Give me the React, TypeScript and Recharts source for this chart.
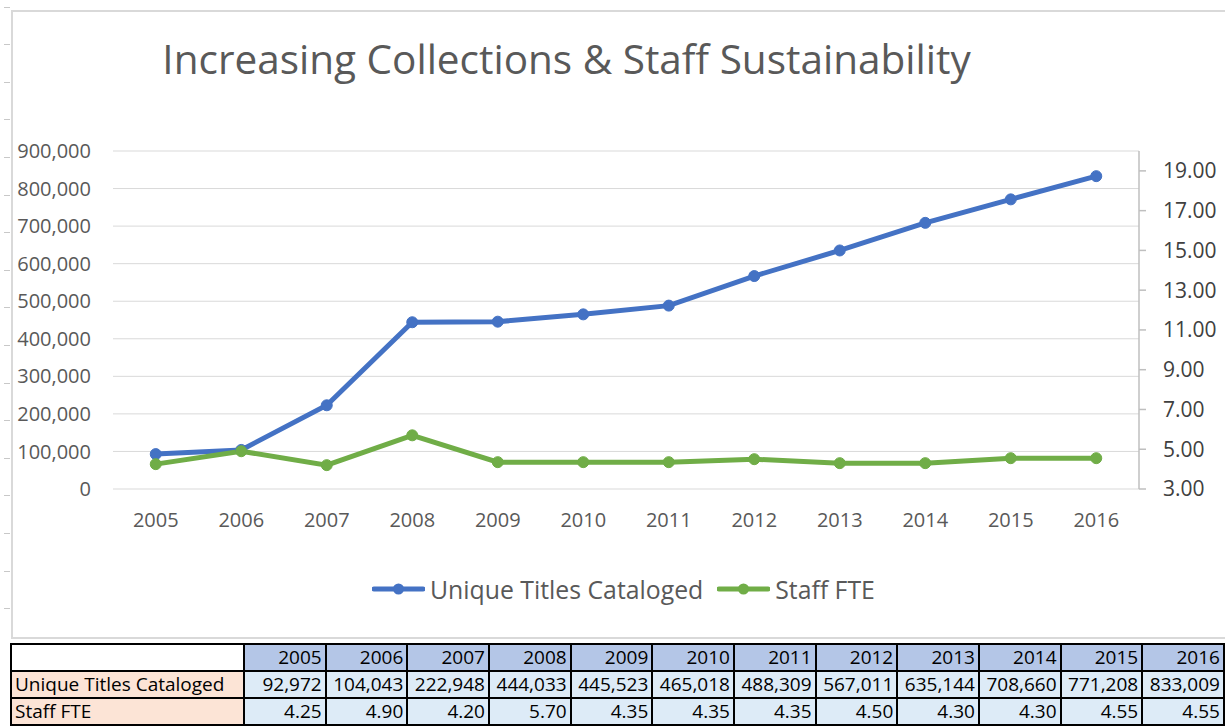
import React from 'react';
import { LineChart, Line, XAxis, YAxis, CartesianGrid, Legend } from 'recharts';

const years = ['2005', '2006', '2007', '2008', '2009', '2010', '2011', '2012', '2013', '2014', '2015', '2016'];
const uniqueTitles = [92972, 104043, 222948, 444033, 445523, 465018, 488309, 567011, 635144, 708660, 771208, 833009];
const staffFTE = [4.25, 4.9, 4.2, 5.7, 4.35, 4.35, 4.35, 4.5, 4.3, 4.3, 4.55, 4.55];
const leftTicks = [0, 100000, 200000, 300000, 400000, 500000, 600000, 700000, 800000, 900000];
const rightTicks = [3, 5, 7, 9, 11, 13, 15, 17, 19];

const seriesNames = { titles: 'Unique Titles Cataloged', fte: 'Staff FTE' };
const seriesOrder = [seriesNames.titles, seriesNames.fte];
const title = 'Increasing Collections & Staff Sustainability';

const data = years.map((y, i) => ({ year: y, titles: uniqueTitles[i], fte: staffFTE[i] }));

const FONT = '"Open Sans", sans-serif';
const BLUE = '#4472C4';
const GREEN = '#70AD47';

const renderLegend = (props: any) => {
  const payload = [...(props.payload || [])].sort(
    (a: any, b: any) => seriesOrder.indexOf(a.value) - seriesOrder.indexOf(b.value)
  );
  return (
    <div style={{ display: 'flex', alignItems: 'center', height: 30, fontFamily: FONT, fontSize: 24.8, color: '#595959', lineHeight: '30px', whiteSpace: 'nowrap' }}>
      {payload.map((p: any, i: number) => (
        <React.Fragment key={i}>
          <svg width={53} height={14} style={{ marginLeft: i === 0 ? 0 : 14, display: 'block' }}>
            <line x1={2} y1={7} x2={51} y2={7} stroke={p.color} strokeWidth={5} strokeLinecap="round" />
            <circle cx={26.5} cy={7} r={5.5} fill={p.color} />
          </svg>
          <span style={{ marginLeft: 5 }}>{p.value}</span>
        </React.Fragment>
      ))}
    </div>
  );
};

const cellBase: React.CSSProperties = {
  border: '2px solid #000',
  padding: '0 3px',
  height: 25,
  lineHeight: '25px',
  whiteSpace: 'nowrap',
  overflow: 'hidden',
  color: '#000',
};

export default function App() {
  const leftMarks = [];
  for (let y = 6.5; y < 640; y += 37.6) leftMarks.push(y);
  return (
    <div style={{ position: 'absolute', left: 0, top: 0, width: 1225, height: 727, background: '#fff', overflow: 'hidden', fontFamily: FONT }}>
      {leftMarks.map((y, i) => (
        <div key={i} style={{ position: 'absolute', left: 4, top: y, width: 6, height: 1, background: '#c8c8c8' }} />
      ))}
      <div style={{ position: 'absolute', left: 11, top: 10, width: 1230, height: 625, border: '2px solid #d9d9d9' }} />
      <div style={{ position: 'absolute', left: 0, top: 39, width: 1133, textAlign: 'center', fontSize: 40.5, lineHeight: 1, color: '#595959', whiteSpace: 'nowrap' }}>
        {title}
      </div>
      <div style={{ position: 'absolute', left: 0, top: 0 }}>
        <LineChart width={1225} height={640} data={data} margin={{ top: 151, right: 0, bottom: 0, left: 0 }}>
          <CartesianGrid yAxisId="left" vertical={false} stroke="#d9d9d9" strokeWidth={1} />
          <XAxis
            dataKey="year"
            padding={{ left: 42.75, right: 42.75 }}
            axisLine={false}
            tickLine={false}
            tickSize={0}
            tickMargin={24}
            height={151}
            interval={0}
            tick={{ fill: '#595959', fontSize: 20, fontFamily: FONT }}
          />
          <YAxis
            yAxisId="left"
            orientation="left"
            domain={[0, 900000]}
            ticks={leftTicks}
            tickFormatter={(v: number) => v.toLocaleString('en-US')}
            width={113}
            axisLine={false}
            tickLine={false}
            tickSize={0}
            tickMargin={22}
            interval={0}
            tick={{ fill: '#595959', fontSize: 20, fontFamily: FONT }}
          />
          <YAxis
            yAxisId="right"
            orientation="right"
            domain={[3, 20]}
            ticks={rightTicks}
            tickFormatter={(v: number) => v.toFixed(2)}
            width={86}
            axisLine={{ stroke: '#bfbfbf', strokeWidth: 1.5 }}
            tickLine={{ stroke: '#bfbfbf', strokeWidth: 1.5 }}
            tickSize={7}
            tickMargin={17}
            interval={0}
            tick={{ fill: '#404040', fontSize: 21, fontFamily: FONT }}
          />
          <Legend
            layout="horizontal"
            verticalAlign="middle"
            align="center"
            itemSorter={null as any}
            content={renderLegend}
            wrapperStyle={{ left: 372, top: 574, width: 560, height: 30 }}
          />
          <Line
            yAxisId="left"
            dataKey="titles"
            name={seriesNames.titles}
            stroke={BLUE}
            strokeWidth={5}
            dot={{ r: 5.5, fill: BLUE, stroke: BLUE, strokeWidth: 1 }}
            activeDot={false}
            isAnimationActive={false}
          />
          <Line
            yAxisId="right"
            dataKey="fte"
            name={seriesNames.fte}
            stroke={GREEN}
            strokeWidth={5}
            dot={{ r: 5.5, fill: GREEN, stroke: GREEN, strokeWidth: 1 }}
            activeDot={false}
            isAnimationActive={false}
          />
        </LineChart>
      </div>
      <table style={{ position: 'absolute', left: 10, top: 643, width: 1213, borderCollapse: 'collapse', tableLayout: 'fixed', fontFamily: FONT, fontSize: 19 }}>
        <colgroup>
          <col style={{ width: 233 }} />
          {years.map((y) => (
            <col key={y} style={{ width: 81.67 }} />
          ))}
        </colgroup>
        <tbody>
          <tr>
            <td style={{ ...cellBase, background: '#fff' }}></td>
            {years.map((y) => (
              <td key={y} style={{ ...cellBase, background: '#B4C6E7', textAlign: 'right' }}>{y}</td>
            ))}
          </tr>
          <tr>
            <td style={{ ...cellBase, background: '#FCE4D6' }}>{seriesNames.titles}</td>
            {uniqueTitles.map((v, i) => (
              <td key={i} style={{ ...cellBase, background: '#DDEBF7', textAlign: 'right' }}>{v.toLocaleString('en-US')}</td>
            ))}
          </tr>
          <tr>
            <td style={{ ...cellBase, background: '#FCE4D6' }}>{seriesNames.fte}</td>
            {staffFTE.map((v, i) => (
              <td key={i} style={{ ...cellBase, background: '#DDEBF7', textAlign: 'right' }}>{v.toFixed(2)}</td>
            ))}
          </tr>
        </tbody>
      </table>
    </div>
  );
}
